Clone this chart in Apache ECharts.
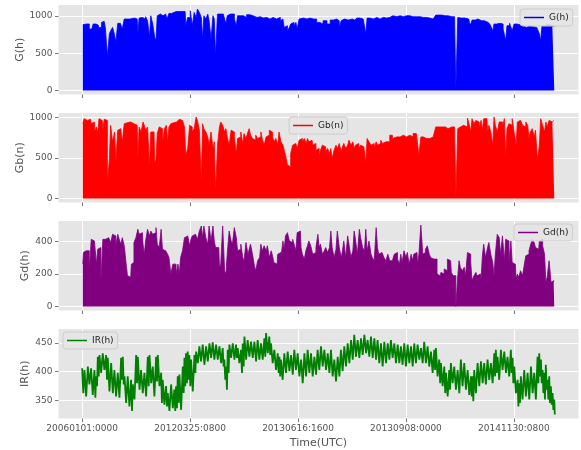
<!DOCTYPE html>
<html>
<head>
<meta charset="utf-8">
<script src="https://cdn.jsdelivr.net/npm/echarts@6/dist/echarts.min.js"></script>
<style>
  html, body { margin: 0; padding: 0; background: #ffffff; }
  #chart { width: 581px; height: 450px; }
</style>
</head>
<body>
<div id="chart"></div>
<script>
// Hour-of-record positions of the x ticks and their timestamp labels
const tickIndex = [0, 2000, 4000, 6000, 8000];
const tickLabels = ['20060101:0000', '20120325:0800', '20130616:1600', '20130908:0000', '20141130:0800'];

// Daily peak global horizontal irradiance [day, W/m2]
const ghPeak = [[0,884],[3,893],[7,826],[9,893],[11,879],[13,848],[16,915],[17,929],[18,826],[20,455],[21,759],[22,803],[24,848],[25,750],[26,647],[28,902],[30,902],[31,826],[33,960],[35,960],[38,973],[42,960],[43,759],[44,973],[46,982],[47,991],[48,960],[49,991],[51,937],[52,714],[53,1004],[55,893],[56,714],[57,670],[58,1004],[60,1027],[62,1004],[64,1027],[66,960],[67,1036],[70,1060],[74,1062],[79,1062],[80,870],[82,982],[84,1071],[85,870],[87,1049],[88,982],[89,1094],[91,1049],[92,982],[93,692],[94,1004],[96,960],[97,1027],[98,937],[100,692],[101,1004],[102,960],[103,455],[105,1027],[107,1027],[110,1027],[111,893],[112,1004],[114,1027],[115,1004],[116,1027],[118,960],[119,870],[120,1004],[123,1004],[125,982],[128,1018],[130,1004],[133,982],[136,991],[138,973],[141,982],[143,960],[146,982],[148,960],[151,982],[154,937],[155,960],[156,848],[157,870],[159,803],[160,848],[161,893],[163,915],[164,870],[165,915],[166,826],[168,960],[169,973],[172,960],[174,973],[177,960],[179,960],[182,915],[184,893],[187,937],[190,893],[192,946],[195,960],[197,937],[199,848],[200,937],[202,960],[205,946],[208,960],[210,946],[213,973],[215,960],[218,973],[219,759],[220,973],[223,960],[226,982],[228,960],[231,982],[233,973],[236,982],[238,1004],[241,991],[244,1004],[246,991],[249,1004],[251,1004],[254,991],[256,991],[259,991],[262,982],[264,982],[267,973],[269,960],[272,982],[273,1013],[277,1013],[280,1004],[282,1004],[285,991],[287,991],[289,9],[290,982],[292,973],[295,973],[298,960],[299,915],[300,884],[301,946],[303,946],[305,960],[308,937],[310,937],[313,915],[316,884],[317,803],[318,893],[321,902],[323,893],[326,826],[327,670],[328,870],[331,902],[332,803],[334,893],[336,884],[339,870],[341,848],[344,870],[346,857],[349,848],[352,848],[353,759],[354,670],[355,870],[358,884],[361,870],[364,857]];

// Daily peak direct normal irradiance [day, W/m2]
const gbPeak = [[0,922],[2,984],[3,963],[4,963],[6,976],[7,922],[8,943],[10,820],[11,882],[12,800],[13,984],[15,963],[16,841],[17,976],[18,963],[20,208],[21,474],[22,902],[24,698],[25,820],[26,453],[28,841],[29,861],[30,820],[31,698],[33,922],[34,935],[35,922],[37,943],[38,963],[39,922],[40,943],[42,902],[43,494],[44,882],[46,820],[47,943],[48,902],[49,841],[51,882],[52,392],[53,820],[55,820],[56,433],[57,474],[58,800],[60,882],[61,861],[62,678],[64,861],[65,902],[66,698],[67,882],[69,922],[70,935],[71,943],[74,963],[75,976],[76,963],[78,943],[79,882],[80,535],[82,616],[83,902],[84,882],[85,820],[87,861],[88,1004],[89,963],[91,841],[92,208],[93,922],[94,861],[96,820],[97,759],[98,657],[100,820],[101,616],[102,698],[103,86],[105,657],[106,882],[107,943],[109,902],[110,820],[111,861],[112,759],[114,657],[115,841],[116,820],[118,759],[119,555],[120,739],[121,759],[123,820],[124,678],[125,800],[127,739],[128,820],[129,861],[130,780],[132,739],[133,718],[134,780],[136,739],[137,759],[138,820],[139,739],[141,657],[142,759],[143,780],[145,841],[146,820],[147,759],[148,698],[150,739],[151,657],[152,820],[154,698],[155,657],[156,596],[157,535],[159,412],[160,392],[161,555],[163,657],[164,678],[165,657],[166,616],[168,718],[169,739],[170,698],[172,739],[173,678],[174,739],[175,698],[177,718],[178,657],[179,678],[181,596],[182,616],[183,514],[184,596],[186,657],[187,637],[188,576],[190,616],[191,555],[192,616],[193,494],[195,596],[196,657],[197,616],[199,678],[200,576],[201,637],[202,678],[204,616],[205,657],[206,718],[208,657],[209,698],[210,616],[211,657],[213,678],[214,616],[215,657],[217,637],[218,657],[219,433],[220,739],[222,698],[223,657],[224,678],[226,616],[227,698],[228,657],[229,678],[231,718],[232,678],[233,698],[235,718],[236,698],[238,780],[240,739],[241,759],[244,759],[246,780],[249,759],[251,780],[254,759],[256,800],[259,800],[260,535],[262,759],[264,739],[267,739],[269,759],[272,739],[273,882],[277,882],[280,882],[282,861],[285,882],[287,882],[289,12],[290,861],[291,882],[292,861],[294,902],[295,922],[296,882],[298,992],[299,902],[300,820],[301,984],[303,922],[304,963],[305,943],[307,861],[308,963],[309,841],[310,984],[312,984],[313,820],[314,902],[316,820],[317,657],[318,1004],[319,902],[321,820],[322,943],[323,943],[325,882],[326,984],[327,494],[328,861],[330,922],[331,902],[332,984],[334,820],[335,657],[336,943],[337,963],[339,943],[340,902],[341,882],[343,943],[344,902],[345,739],[346,820],[348,861],[349,759],[350,841],[352,474],[353,657],[354,984],[356,902],[357,820],[358,943],[359,882],[361,963],[362,943],[363,943],[364,963]];

// Daily peak diffuse horizontal irradiance [day, W/m2]
const gdPeak = [[0,261],[1,333],[2,343],[3,353],[4,343],[6,210],[7,414],[8,404],[10,394],[11,261],[12,353],[13,363],[15,149],[16,414],[17,414],[18,404],[19,424],[21,435],[22,394],[24,445],[25,435],[26,374],[28,445],[29,404],[30,384],[31,424],[33,374],[34,261],[35,190],[37,180],[38,261],[39,271],[40,394],[42,424],[43,476],[44,445],[46,455],[47,384],[48,322],[49,404],[51,476],[52,435],[53,465],[55,445],[56,455],[57,486],[58,384],[60,363],[61,476],[62,353],[64,343],[65,353],[66,322],[67,302],[69,200],[70,261],[71,261],[73,200],[74,261],[75,200],[76,302],[78,343],[79,424],[80,435],[82,424],[83,374],[84,414],[85,435],[87,445],[88,445],[89,414],[91,465],[92,496],[93,424],[94,496],[96,424],[97,384],[98,496],[100,404],[101,496],[102,404],[103,363],[105,363],[106,241],[107,261],[109,496],[110,220],[111,200],[112,322],[114,465],[115,404],[116,384],[118,486],[119,424],[120,343],[121,353],[123,384],[124,302],[125,282],[127,394],[128,322],[129,353],[130,384],[132,322],[133,251],[134,220],[136,282],[137,302],[138,384],[139,343],[141,374],[142,343],[143,374],[145,302],[146,343],[147,312],[148,271],[150,261],[151,322],[152,333],[154,302],[155,404],[156,353],[157,435],[159,455],[160,404],[161,394],[163,414],[164,374],[165,343],[166,455],[168,465],[169,363],[170,322],[172,292],[173,353],[174,374],[175,404],[177,374],[178,322],[179,333],[181,363],[182,445],[183,363],[184,384],[186,322],[187,343],[188,363],[190,333],[191,363],[192,465],[193,363],[195,302],[196,353],[197,465],[199,363],[200,302],[201,343],[202,404],[204,302],[205,435],[206,384],[208,302],[209,343],[210,465],[211,414],[213,322],[214,476],[215,424],[217,363],[218,343],[219,476],[220,343],[222,404],[223,322],[224,302],[226,282],[227,486],[228,363],[229,322],[231,333],[232,322],[233,302],[235,282],[236,322],[238,282],[240,292],[241,322],[242,333],[244,292],[245,261],[246,322],[247,271],[249,343],[250,302],[251,333],[253,261],[254,322],[255,282],[256,322],[258,333],[259,261],[260,322],[262,502],[263,322],[264,333],[265,353],[267,374],[268,322],[269,302],[271,292],[272,282],[273,292],[274,200],[276,190],[277,210],[278,200],[280,231],[281,220],[282,292],[284,282],[285,210],[287,190],[289,0],[290,190],[291,282],[292,241],[294,220],[295,241],[296,190],[298,333],[299,322],[300,271],[301,159],[303,190],[304,210],[305,190],[307,200],[308,169],[309,312],[310,384],[312,302],[313,363],[314,394],[316,322],[317,271],[318,190],[319,322],[321,445],[322,424],[323,322],[325,435],[326,282],[327,414],[328,404],[330,271],[331,404],[332,271],[334,261],[335,169],[336,200],[337,180],[339,220],[340,190],[341,241],[343,312],[344,322],[345,343],[346,374],[348,414],[349,394],[350,363],[352,353],[353,404],[354,414],[356,374],[357,322],[358,149],[359,180],[361,282],[362,149],[363,159],[364,149]];

// Infrared irradiance highs and lows in sequence [day, W/m2]
const irSeries = [[0,406],[0.9,363],[1.8,403],[3.1,357],[4.4,409],[5.6,378],[6.9,406],[8.2,360],[9.5,403],[10.2,355],[10.8,392],[11.5,375],[12.1,426],[12.8,392],[13.4,429],[14.7,398],[15.9,432],[17.2,403],[18.5,429],[19.2,386],[19.8,424],[21.1,366],[22.4,415],[23.7,363],[24.9,403],[26.2,357],[27.5,398],[28.8,355],[30.1,424],[30.8,386],[31.4,426],[32.1,378],[32.7,392],[34,346],[35.2,392],[36.5,340],[37.8,386],[38.5,332],[39.1,378],[40.4,352],[41.7,429],[42.4,380],[43,426],[44.3,369],[45.5,403],[46.8,363],[48.1,398],[49.4,357],[50.7,426],[51.4,375],[52,429],[53.3,380],[54.5,409],[55.8,357],[57.1,426],[57.8,383],[58.4,429],[59.7,375],[61,398],[61.6,346],[62.2,386],[63.5,343],[64.8,375],[65.5,340],[66.1,363],[67.4,332],[68.7,378],[70,337],[71.2,369],[71.9,332],[72.5,375],[73.2,337],[73.8,392],[74.5,346],[75.1,395],[76.4,334],[77.7,409],[78.4,363],[79,424],[79.6,375],[80.2,432],[80.9,380],[81.5,435],[82.2,386],[82.8,429],[83.5,375],[84.1,421],[85.4,366],[86.7,429],[87.4,398],[88,435],[89.3,415],[90.5,444],[91.8,418],[93.1,447],[94.4,412],[95.7,444],[97,418],[98.3,449],[99.6,424],[100.8,451],[102.1,421],[103.4,447],[104.7,421],[106,444],[107.3,415],[108.5,441],[109.2,409],[109.8,421],[110.5,386],[111.1,409],[111.8,369],[112.4,438],[113.1,398],[113.7,447],[115,424],[116.3,449],[117.6,421],[118.8,447],[119.5,424],[120.1,441],[121.4,415],[122.7,438],[123.4,398],[124,449],[124.7,409],[125.3,461],[126.6,421],[127.8,455],[129.1,426],[130.4,452],[131.7,424],[133,452],[134.3,418],[135.5,455],[136.8,421],[138.1,449],[139.4,421],[140.7,458],[141.4,426],[142,467],[143.3,432],[144.5,461],[145.2,429],[145.8,449],[147.1,415],[148.4,438],[149.7,403],[151,432],[151.7,398],[152.3,426],[152.9,392],[153.5,421],[154.8,386],[156.1,432],[157.4,398],[158.7,435],[160,401],[161.3,429],[162.6,395],[163.8,438],[165.1,403],[166.4,432],[167.7,392],[169,421],[170.3,380],[171.6,432],[172.9,392],[174.1,438],[175.4,398],[176.7,432],[178,392],[179.3,426],[180.6,395],[181.8,438],[183.1,403],[184.4,444],[185.7,409],[187,438],[188.3,403],[189.6,432],[190.9,398],[192.1,438],[193.4,392],[194.7,421],[196,383],[197.3,426],[198.6,392],[199.8,438],[201.1,401],[202.4,444],[203.7,409],[205,449],[206.3,415],[207.6,455],[208.9,421],[210.1,464],[211.4,426],[212.7,455],[214,424],[215.3,458],[216.6,429],[217.9,464],[219.2,432],[220.4,455],[221.7,426],[223,461],[224.3,424],[225.6,458],[226.9,421],[228.1,455],[229.4,415],[230.7,449],[232,409],[233.3,452],[234.6,415],[235.9,449],[237.2,421],[238.4,455],[239.7,424],[241,449],[242.3,415],[243.6,447],[244.9,415],[246.1,444],[247.4,412],[248.7,449],[250,409],[251.3,447],[252.6,415],[253.9,444],[255.2,409],[256.4,449],[257.7,415],[259,447],[260.3,421],[261.6,441],[262.9,415],[264.1,452],[265.4,415],[266.7,444],[268,409],[269.3,435],[270.6,398],[271.9,438],[272.5,403],[273.1,441],[274.4,392],[275.7,421],[276.4,380],[277,415],[278.3,375],[279.6,409],[280.3,363],[280.9,398],[282.2,357],[283.4,403],[284,369],[284.7,415],[286,380],[287.3,409],[288.6,369],[289.9,403],[291.2,363],[292.4,421],[293.7,375],[295,415],[296.3,369],[297.6,403],[298.9,360],[300.2,392],[300.8,357],[301.4,392],[302,349],[302.7,403],[304,363],[305.3,415],[306.6,375],[307.9,418],[309.2,380],[310.4,415],[311.7,378],[313,421],[314.3,386],[315.6,415],[316.9,380],[318.2,432],[318.8,392],[319.4,438],[320,398],[320.7,426],[322,386],[323.3,438],[324.6,403],[325.9,435],[327.2,398],[328.4,426],[329.7,392],[331,438],[331.6,398],[332.3,424],[332.9,380],[333.6,409],[334.9,363],[336.2,386],[336.8,340],[337.4,380],[338,346],[338.7,392],[340,352],[341.3,403],[342.6,357],[343.9,398],[345.2,352],[346.5,409],[347.8,363],[349,398],[350.3,352],[351.6,426],[352.2,380],[352.9,432],[353.5,392],[354.2,421],[354.8,380],[355.5,403],[356.1,363],[356.7,398],[357.3,352],[358,412],[358.6,369],[359.3,386],[359.9,352],[360.6,392],[361.2,346],[361.9,375],[362.5,343],[363.2,363],[363.8,334],[364.5,352],[364.9,326]];

// Y tick values per panel
const yTicksG = [0, 500, 1000];
const yTicksGb = [0, 500, 1000];
const yTicksGd = [0, 200, 400];
const yTicksIR = [350, 400, 450];

const FONT = 'DejaVu Sans';
const GREY = '#555555';
const HOURS = 24;

// Layout of the four stacked panels
const panels = [
  { name: 'G(h)',  color: '#0000ff', data: ghPeak, fill: true,  yMin: -55, yMax: 1149, ticks: yTicksG,  gap: 33, legend: { left: 520, top: 9 } },
  { name: 'Gb(n)', color: '#ff0000', data: gbPeak, fill: true,  yMin: -50, yMax: 1054, ticks: yTicksGb, gap: 33, legend: { left: 289, top: 117 } },
  { name: 'Gd(h)', color: '#800080', data: gdPeak, fill: true,  yMin: -25, yMax: 527,  ticks: yTicksGd, gap: 28, legend: { left: 514, top: 224 } },
  { name: 'IR(h)', color: '#008000', data: irSeries, fill: false, yMin: 319, yMax: 474, ticks: yTicksIR, gap: 28, legend: { left: 63, top: 332 } }
];
const tops = [5, 113, 221, 329];
const panelHeight = 89.5;

const grid = [], xAxis = [], yAxis = [], series = [], legend = [];
panels.forEach((p, i) => {
  const last = i === panels.length - 1;
  grid.push({
    left: 58.5, right: 2.5, top: tops[i], height: panelHeight,
    outerBoundsMode: 'none', containLabel: false,
    show: true, backgroundColor: '#e5e5e5', borderWidth: 0
  });
  xAxis.push({
    type: 'value', gridIndex: i, min: -438, max: 9197,
    axisLine: { show: false, onZero: false },
    axisTick: { show: true, customValues: tickIndex, length: 3.5, lineStyle: { color: GREY, width: 0.8 } },
    axisLabel: {
      show: last, customValues: tickIndex, margin: 6,
      fontFamily: FONT, fontSize: 9, color: GREY,
      formatter: v => tickLabels[tickIndex.indexOf(v)] || ''
    },
    splitLine: { show: true, lineStyle: { color: '#ffffff', width: 1 } },
    name: last ? 'Time(UTC)' : '', nameLocation: 'middle', nameGap: 19, nameMoveOverlap: false,
    nameTextStyle: { fontFamily: FONT, fontSize: 11, color: GREY }
  });
  yAxis.push({
    type: 'value', gridIndex: i, min: p.yMin, max: p.yMax,
    axisLine: { show: false, onZero: false },
    axisTick: { show: true, customValues: p.ticks, length: 3.5, lineStyle: { color: GREY, width: 0.8 } },
    axisLabel: { customValues: p.ticks, margin: 6, fontFamily: FONT, fontSize: 9, color: GREY, formatter: v => String(v) },
    splitLine: { show: true, lineStyle: { color: '#ffffff', width: 1 } },
    name: p.name, nameLocation: 'middle', nameGap: p.gap, nameMoveOverlap: false,
    nameTextStyle: { fontFamily: FONT, fontSize: 11, color: GREY }
  });
  const pts = p.data.map(d => [d[0] * HOURS + (p.fill ? HOURS / 2 : 0), d[1]]);
  series.push({
    name: p.name, type: 'line', xAxisIndex: i, yAxisIndex: i,
    data: pts, showSymbol: false, symbol: 'none', silent: true,
    step: p.fill ? 'middle' : false,
    lineStyle: { color: p.color, width: p.fill ? 0.8 : 1.8 },
    itemStyle: { color: p.color },
    areaStyle: p.fill ? { color: p.color, opacity: 1 } : undefined
  });
  legend.push({
    data: [p.name], left: p.legend.left, top: p.legend.top,
    icon: 'rect', itemWidth: 20, itemHeight: 1.5,
    padding: [4, 4], backgroundColor: 'rgba(229,229,229,0.8)',
    borderColor: '#cccccc', borderWidth: 1, borderRadius: 3,
    textStyle: { fontFamily: FONT, fontSize: 9, color: '#222222' },
    selectedMode: false
  });
});

const chart = echarts.init(document.getElementById('chart'), null, { renderer: 'canvas' });
chart.setOption({ animation: false, backgroundColor: '#ffffff', grid, xAxis, yAxis, series, legend });
</script>
</body>
</html>
